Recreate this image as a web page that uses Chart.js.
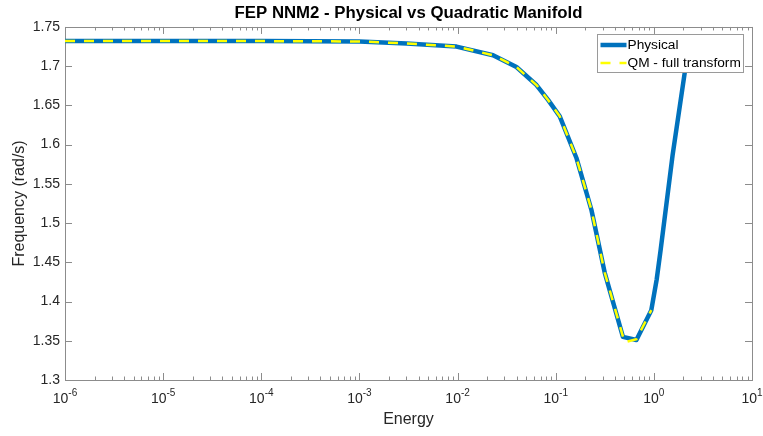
<!DOCTYPE html>
<html>
<head>
<meta charset="utf-8">
<title>FEP NNM2</title>
<script src="https://cdn.jsdelivr.net/npm/chart.js@4.4.0/dist/chart.umd.min.js"></script>
<style>
    html, body { margin: 0; padding: 0; background: #ffffff; }
    canvas { display: block; }
</style>
</head>
<body>
<canvas id="fep" width="763" height="436"></canvas>
<script>
// values
var physicalEnergy = [1e-6, 1e-5, 1e-4, 1e-3, 0.00302, 0.00975, 0.0230, 0.0398, 0.0637, 0.0836, 0.110,
    0.1626, 0.231, 0.3155, 0.484, 0.664, 0.942, 1.068, 1.173, 1.554, 2.059, 2.262];
var physicalFreq = [1.732, 1.732, 1.732, 1.7315, 1.729, 1.725, 1.714, 1.699, 1.676, 1.657, 1.636,
    1.583, 1.517, 1.437, 1.355, 1.351, 1.389, 1.428, 1.466, 1.587, 1.691, 1.727];

var qmEnergy = [1e-6, 1e-5, 1e-4, 1e-3, 0.00302, 0.00975, 0.0230, 0.0398, 0.0637, 0.0836, 0.110,
    0.1626, 0.231, 0.3155, 0.503, 0.664, 0.942];
var qmFreq = [1.732, 1.732, 1.732, 1.7315, 1.729, 1.725, 1.714, 1.699, 1.676, 1.657, 1.636,
    1.583, 1.517, 1.437, 1.348, 1.352, 1.389];

var xTickExponents = [-6, -5, -4, -3, -2, -1, 0, 1];
var yTickLabels = ['1.3', '1.35', '1.4', '1.45', '1.5', '1.55', '1.6', '1.65', '1.7', '1.75'];

var FONT = "'Liberation Sans', Arial, Helvetica, sans-serif";
var AXIS_GRAY = '#8c8c8c';
var TEXT_GRAY = '#262626';

function toPoints(xs, ys) {
    return xs.map(function (x, i) {
        return { x: x, y: ys[i] };
    });
}

// box around the axes plus MATLAB style inward ticks (major + minor)
var axesBox = {
    id: 'axesBox',
    beforeDatasetsDraw: function (chart) {
        var ctx = chart.ctx;
        var a = chart.chartArea;
        var xs = chart.scales.x;
        var ys = chart.scales.y;
        ctx.save();
        ctx.strokeStyle = AXIS_GRAY;
        ctx.lineWidth = 1;
        ctx.beginPath();
        ys.ticks.forEach(function (t) {
            var py = Math.round(ys.getPixelForValue(t.value)) + 0.5;
            ctx.moveTo(a.left, py);
            ctx.lineTo(a.left + 7, py);
            ctx.moveTo(a.right, py);
            ctx.lineTo(a.right - 7, py);
        });
        for (var e = -6; e <= 1; e++) {
            for (var m = 1; m <= 9; m++) {
                var v = m * Math.pow(10, e);
                if (v > xs.max * 1.0001) break;
                var px = Math.round(xs.getPixelForValue(v)) + 0.5;
                var len = m === 1 ? 7 : 3.5;
                ctx.moveTo(px, a.bottom);
                ctx.lineTo(px, a.bottom - len);
                ctx.moveTo(px, a.top);
                ctx.lineTo(px, a.top + len);
            }
        }
        ctx.stroke();
        ctx.strokeRect(Math.round(a.left) + 0.5, Math.round(a.top) + 0.5,
            Math.round(a.right) - Math.round(a.left), Math.round(a.bottom) - Math.round(a.top));
        ctx.restore();
    }
};

// x tick labels written as 10 with a raised exponent
var powerLabels = {
    id: 'powerLabels',
    afterDraw: function (chart) {
        var ctx = chart.ctx;
        var xs = chart.scales.x;
        var base = chart.chartArea.bottom;
        ctx.save();
        ctx.fillStyle = TEXT_GRAY;
        ctx.textBaseline = 'middle';
        ctx.textAlign = 'left';
        xTickExponents.forEach(function (e) {
            var px = xs.getPixelForValue(Math.pow(10, e));
            ctx.font = '14px ' + FONT;
            var w1 = ctx.measureText('10').width;
            ctx.font = '10px ' + FONT;
            var w2 = ctx.measureText(String(e)).width;
            var start = px - (w1 + w2) / 2;
            ctx.font = '14px ' + FONT;
            ctx.fillText('10', start, base + 19);
            ctx.font = '10px ' + FONT;
            ctx.fillText(String(e), start + w1, base + 13);
        });
        ctx.restore();
    }
};

// legend box in the upper right corner of the axes
var legendBox = {
    id: 'legendBox',
    afterDatasetsDraw: function (chart) {
        var ctx = chart.ctx;
        var a = chart.chartArea;
        var bw = 146, bh = 38;
        var bx = Math.round(a.right - 9 - bw) + 0.5;
        var by = Math.round(a.top + 7) + 0.5;
        ctx.save();
        ctx.fillStyle = '#ffffff';
        ctx.fillRect(bx, by, bw, bh);
        ctx.strokeStyle = '#9a9a9a';
        ctx.lineWidth = 1;
        ctx.strokeRect(bx, by, bw, bh);
        chart.data.datasets.forEach(function (ds, i) {
            var ry = by + 10.5 + i * 18;
            ctx.beginPath();
            ctx.strokeStyle = ds.borderColor;
            ctx.lineWidth = ds.borderWidth;
            ctx.setLineDash(ds.borderDash || []);
            ctx.moveTo(bx + 3, ry);
            ctx.lineTo(bx + 29, ry);
            ctx.stroke();
            ctx.setLineDash([]);
            ctx.fillStyle = '#000000';
            ctx.font = '13.7px ' + FONT;
            ctx.textBaseline = 'middle';
            ctx.fillText(ds.label, bx + 30, ry);
        });
        ctx.restore();
    }
};

var ctx = document.getElementById('fep').getContext('2d');
var chart = new Chart(ctx, {
    type: 'line',
    data: {
        datasets: [{
            label: 'Physical',
            data: toPoints(physicalEnergy, physicalFreq),
            borderColor: '#0072BD',
            borderWidth: 4.5,
            pointRadius: 0,
            tension: 0,
            borderJoinStyle: 'round',
            borderCapStyle: 'butt',
            order: 2
        }, {
            label: 'QM - full transform',
            data: toPoints(qmEnergy, qmFreq),
            borderColor: '#FFFF00',
            borderWidth: 2.5,
            borderDash: [10, 9],
            pointRadius: 0,
            tension: 0,
            order: 1
        }]
    },
    options: {
        responsive: false,
        animation: false,
        devicePixelRatio: 1,
        layout: { padding: { left: 0, right: 11, top: 0, bottom: 0 } },
        plugins: {
            legend: { display: false },
            tooltip: { enabled: false },
            title: {
                display: true,
                text: 'FEP NNM2 - Physical vs Quadratic Manifold',
                fullSize: false,
                color: '#000000',
                font: { family: FONT, size: 16.8, weight: 'bold' },
                padding: { top: 2.8, bottom: 4 }
            }
        },
        scales: {
            x: {
                type: 'logarithmic',
                position: 'bottom',
                min: 1e-6,
                max: 10,
                grid: { display: false, drawTicks: false },
                border: { display: false },
                ticks: { display: false },
                afterFit: function (scale) { scale.height = 56; },
                title: {
                    display: true,
                    text: 'Energy',
                    color: TEXT_GRAY,
                    font: { family: FONT, size: 16 },
                    padding: { top: 0, bottom: 6.4 }
                }
            },
            y: {
                type: 'linear',
                min: 1.3,
                max: 1.75,
                grid: { display: false, drawTicks: false },
                border: { display: false },
                ticks: {
                    stepSize: 0.05,
                    padding: 5,
                    color: TEXT_GRAY,
                    font: { family: FONT, size: 14 },
                    callback: function (value) {
                        var i = Math.round((value - 1.3) / 0.05);
                        return yTickLabels[i];
                    }
                },
                afterFit: function (scale) { scale.width = 65; },
                title: {
                    display: true,
                    text: 'Frequency (rad/s)',
                    color: TEXT_GRAY,
                    font: { family: FONT, size: 16 },
                    padding: { top: 10.4, bottom: 0 }
                }
            }
        }
    },
    plugins: [axesBox, powerLabels, legendBox]
});
</script>
</body>
</html>
